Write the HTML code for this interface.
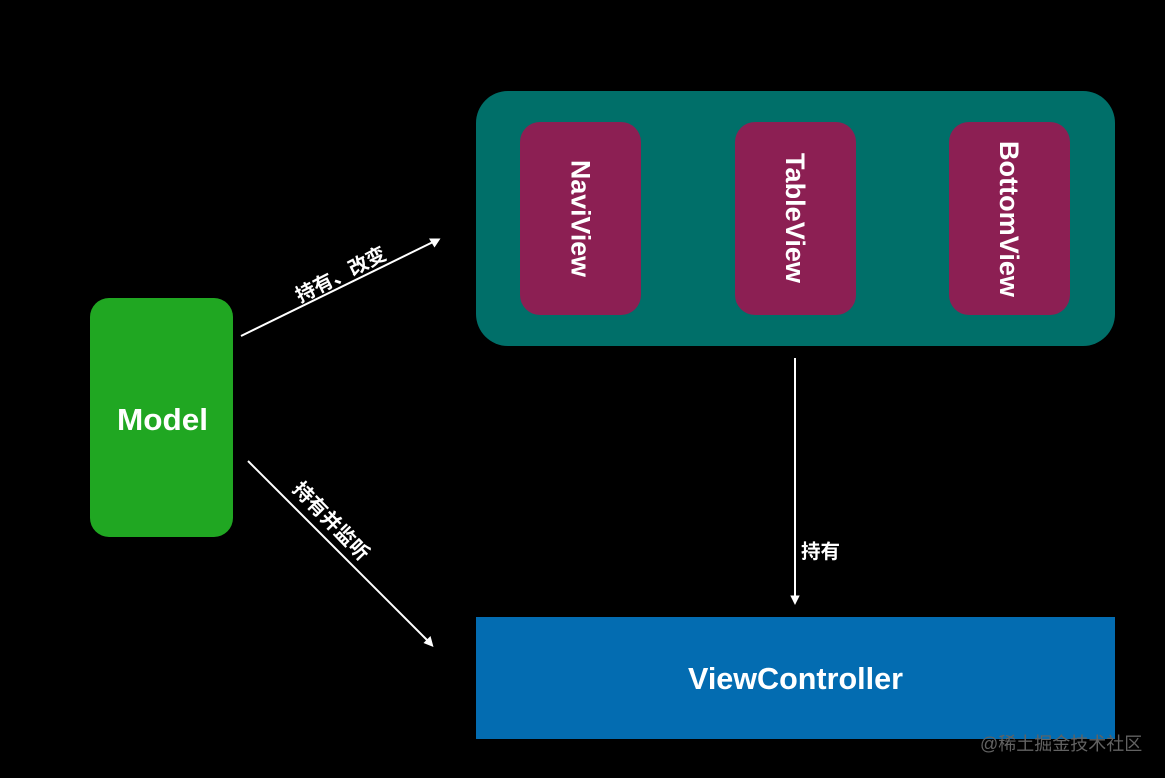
<!DOCTYPE html>
<html>
<head>
<meta charset="utf-8">
<style>
html,body{margin:0;padding:0;background:#000;width:1165px;height:778px;overflow:hidden}
svg{display:block}
text{font-family:"Liberation Sans","Noto Sans CJK SC",sans-serif;fill:#fff}
.b{font-weight:700}
.c{font-family:"Liberation Sans","Noto Sans CJK SC",sans-serif;font-weight:700;font-size:20px}
</style>
</head>
<body>
<svg width="1165" height="778" viewBox="0 0 1165 778" xmlns="http://www.w3.org/2000/svg">
<rect width="1165" height="778" fill="#000"/>
<rect x="90" y="298" width="143" height="239" rx="19" fill="#20a722"/>
<rect x="476" y="91" width="639" height="255" rx="32" fill="#006f69"/>
<rect x="520" y="122" width="121" height="193" rx="20" fill="#8c1f53"/>
<rect x="735" y="122" width="121" height="193" rx="20" fill="#8c1f53"/>
<rect x="949" y="122" width="121" height="193" rx="20" fill="#8c1f53"/>
<rect x="476" y="617" width="639" height="122" fill="#036cb1"/>

<text class="b" x="117" y="430" font-size="31" textLength="91" lengthAdjust="spacingAndGlyphs">Model</text>
<text class="b" x="688" y="689" font-size="31" textLength="215" lengthAdjust="spacingAndGlyphs">ViewController</text>
<text class="b" transform="translate(571.5,160) rotate(90)" font-size="27" textLength="117" lengthAdjust="spacingAndGlyphs">NaviView</text>
<text class="b" transform="translate(786,153) rotate(90)" font-size="27" textLength="130" lengthAdjust="spacingAndGlyphs">TableView</text>
<text class="b" transform="translate(1000,141) rotate(90)" font-size="27" textLength="156" lengthAdjust="spacingAndGlyphs">BottomView</text>

<line x1="241" y1="336" x2="433" y2="242" stroke="#fff" stroke-width="2"/>
<polygon points="440.5,238.5 429,238.5 434.5,247.5" fill="#fff"/>
<line x1="248" y1="461" x2="427" y2="640" stroke="#fff" stroke-width="2"/>
<polygon points="433.5,647 423.5,643 430.5,636" fill="#fff"/>
<line x1="795" y1="358" x2="795" y2="597" stroke="#fff" stroke-width="2"/>
<polygon points="795,605 790.3,595.5 799.7,595.5" fill="#fff"/>

<text class="c" transform="translate(300,303) rotate(-27)" style="font-size:19.7px">持有、改变</text>
<text class="c" transform="translate(291.5,490) rotate(46)">持有并监听</text>
<text class="c" x="801" y="558" style="font-size:19.5px">持有</text>
<text x="980" y="750" font-size="18" style="fill:#626262">@稀土掘金技术社区</text>
</svg>
</body>
</html>
